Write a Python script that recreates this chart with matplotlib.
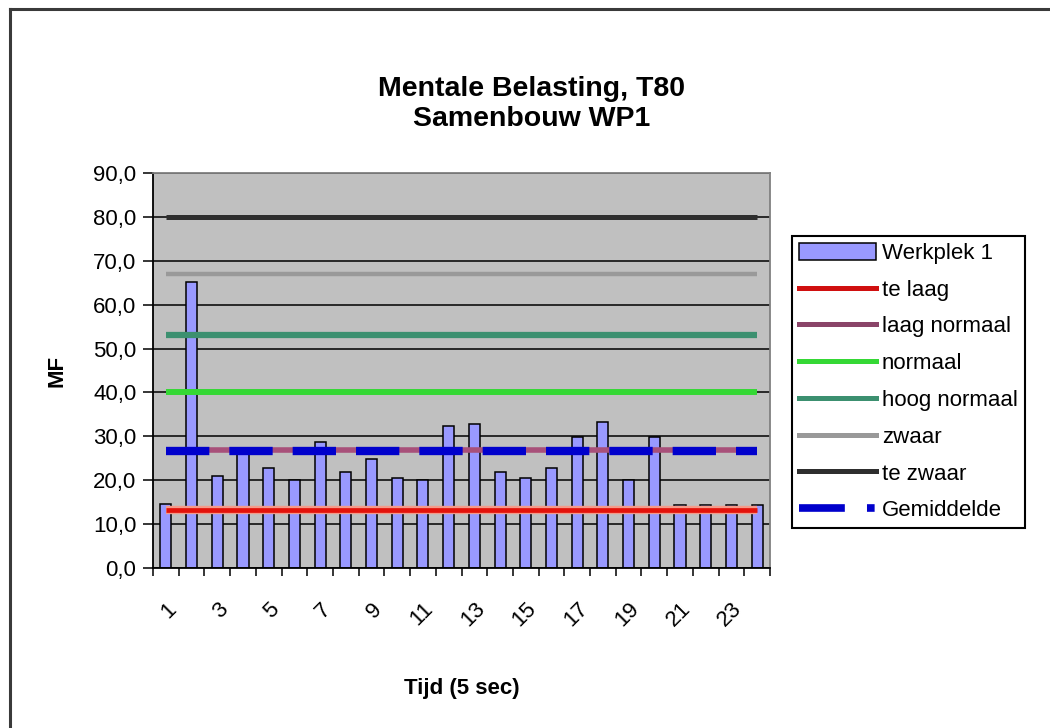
import matplotlib
matplotlib.use("Agg")
import matplotlib.pyplot as plt
from matplotlib.lines import Line2D
from matplotlib.patches import Patch

plt.rcParams['font.family'] = ['Liberation Sans', 'DejaVu Sans']

# Time steps (5 s each) and mental load per step
categories = list(range(1, 25))
werkplek_1 = [14.6, 65.1, 20.9, 26.3, 22.8, 20.0, 28.6, 21.9, 24.9, 20.5, 20.0, 32.4,
              32.8, 21.9, 20.5, 22.8, 29.9, 33.3, 20.0, 29.9, 14.3, 14.3, 14.3, 14.3]

# Reference levels
te_laag = 13.3
laag_normaal = 27.0
normaal = 40.0
hoog_normaal = 53.0
zwaar = 67.0
te_zwaar = 80.0
gemiddelde = 26.7

y_ticks = [0, 10, 20, 30, 40, 50, 60, 70, 80, 90]
x_tick_labels = [str(c) for c in categories[::2]]

W, H = 1050, 728
fig = plt.figure(figsize=(W / 100, H / 100), dpi=100)
fig.patch.set_facecolor('white')

# Chart area border (left and top edges)
fig.add_artist(Line2D([10 / W, 10 / W], [0, 1 - 9 / H], color='#3a3a3a', lw=2.2,
                      transform=fig.transFigure))
fig.add_artist(Line2D([10 / W, 1], [1 - 9 / H, 1 - 9 / H], color='#3a3a3a', lw=2.2,
                      transform=fig.transFigure))

left, right, top, bottom = 153, 770, 173, 568
ax = fig.add_axes([left / W, 1 - bottom / H, (right - left) / W, (bottom - top) / H])
ax.set_facecolor('#C0C0C0')

x = list(range(len(categories)))
ax.bar(x, werkplek_1, width=0.43, color='#9999FF', edgecolor='black', linewidth=1.1,
       zorder=2, label='Werkplek 1')

n = len(categories)
# soft halo under the red line
ax.plot(x, [te_laag] * n, color='#F49A8A', lw=6.0, zorder=3, solid_capstyle='butt')
ax.plot(x, [te_laag] * n, color='#E3120B', lw=3.4, zorder=3, solid_capstyle='butt')
ax.plot(x, [laag_normaal] * n, color='#A8507A', lw=4.0, zorder=3, solid_capstyle='butt')
ax.plot(x, [normaal] * n, color='#35D835', lw=4.3, zorder=3, solid_capstyle='butt')
ax.plot(x, [hoog_normaal] * n, color='#3C9070', lw=4.5, zorder=3, solid_capstyle='butt')
ax.plot(x, [zwaar] * n, color='#999999', lw=3.2, zorder=3, solid_capstyle='butt')
ax.plot(x, [te_zwaar] * n, color='#2E2E2E', lw=3.6, zorder=3, solid_capstyle='butt')
ax.plot(x, [gemiddelde] * n, color='#0000CC', lw=6.0, zorder=4, dashes=(5.2, 2.4),
        solid_capstyle='butt', dash_capstyle='butt')

ax.set_xlim(-0.5, n - 0.5)
ax.set_ylim(0, 90)
ax.set_yticks(y_ticks)
ax.set_yticklabels([f"{v:.1f}".replace('.', ',') for v in y_ticks], fontsize=16)
ax.yaxis.grid(True, color='black', lw=1.1, zorder=0)
ax.set_axisbelow(True)

ax.set_xticks(x[::2])
ax.set_xticklabels(x_tick_labels, rotation=45, ha='right', va='top',
                   rotation_mode='anchor', fontsize=16)
ax.tick_params(axis='x', which='major', length=0, pad=22)
ax.set_xticks([i - 0.5 for i in range(n + 1)], minor=True)
ax.tick_params(axis='x', which='minor', length=6, width=1.1, direction='out', color='black')
ax.tick_params(axis='y', length=7, width=1.1, direction='out', color='black', pad=5)

for s in ('left', 'bottom'):
    ax.spines[s].set_color('black')
    ax.spines[s].set_linewidth(1.3)
for s in ('top', 'right'):
    ax.spines[s].set_color('#808080')
    ax.spines[s].set_linewidth(1.3)

ax.set_xlabel('Tijd (5 sec)', fontsize=16, fontweight='bold', labelpad=34)
ax.set_ylabel('MF', fontsize=16, fontweight='bold', labelpad=18)

fig.text(532 / W, 1 - 104 / H, 'Mentale Belasting, T80\nSamenbouw WP1',
         ha='center', va='center', fontsize=20.5, fontweight='bold', linespacing=1.2)

handles = [
    Patch(facecolor='#9999FF', edgecolor='black', linewidth=1.1),
    Line2D([], [], color='#D01010', lw=3.6),
    Line2D([], [], color='#8A4468', lw=3.6),
    Line2D([], [], color='#35D835', lw=3.6),
    Line2D([], [], color='#3C9070', lw=3.6),
    Line2D([], [], color='#999999', lw=3.6),
    Line2D([], [], color='#2E2E2E', lw=3.6),
    Line2D([], [], color='#0000CC', lw=5.5, dashes=(6.0, 2.9, 1.0, 10),
           dash_capstyle='butt'),
]
labels = ['Werkplek 1', 'te laag', 'laag normaal', 'normaal', 'hoog normaal',
          'zwaar', 'te zwaar', 'Gemiddelde']
leg = fig.legend(handles, labels, loc='upper left', bbox_to_anchor=(792 / W, 1 - 236 / H),
                 bbox_transform=fig.transFigure, fontsize=16, frameon=True, fancybox=False,
                 edgecolor='black', framealpha=1, borderaxespad=0, borderpad=0.3,
                 handlelength=3.5, handleheight=0.8, handletextpad=0.25, labelspacing=0.7)
leg.get_frame().set_linewidth(1.5)

fig.savefig('out.png', dpi=100)
